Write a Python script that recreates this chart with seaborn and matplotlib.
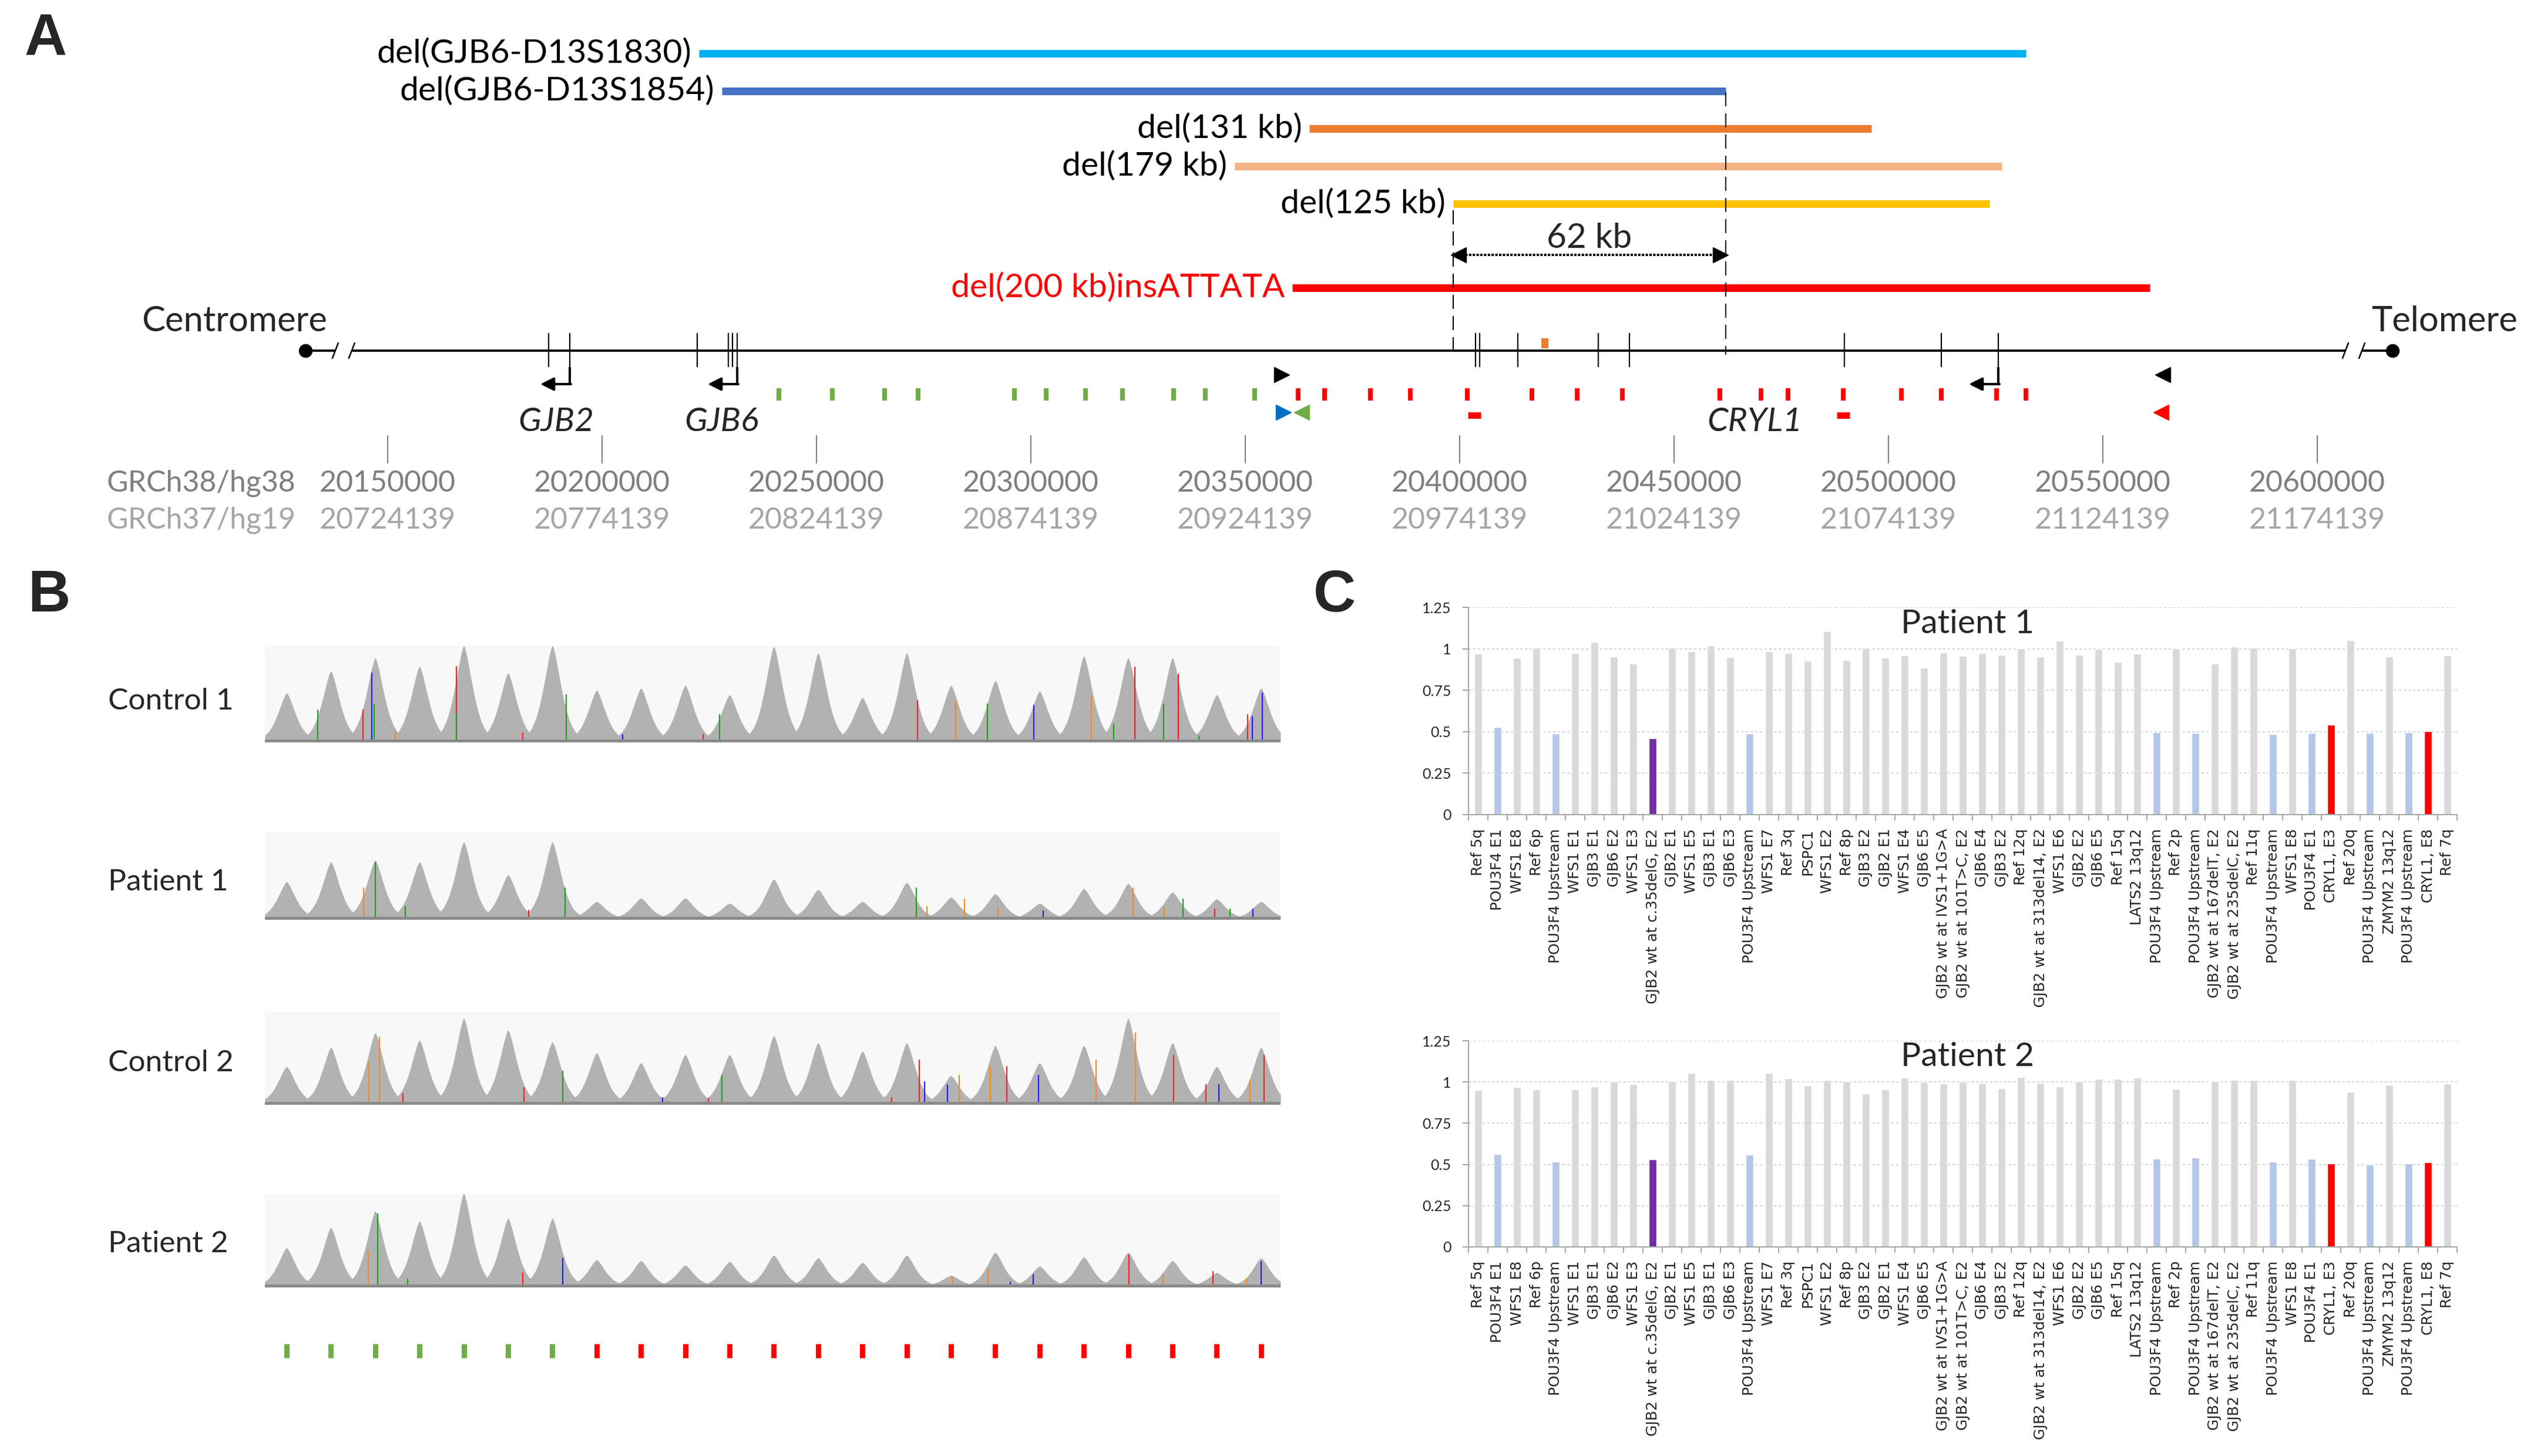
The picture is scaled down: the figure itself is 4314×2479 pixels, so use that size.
import numpy as np
import matplotlib
matplotlib.use("Agg")
import matplotlib.pyplot as plt
import seaborn as sns
import pandas as pd

sns.set_theme(style="white")
plt.rcParams['font.family'] = ['Lato', 'DejaVu Sans']

W, H = 4314, 2479
DPI = 100
PT = 72.0 / DPI  # points per pixel

# ------------------------------------------------------------------ DATA
# Panel A : deletions (GRCh38 coordinates)
del_names = ["del(GJB6-D13S1830)", "del(GJB6-D13S1854)", "del(131 kb)",
             "del(179 kb)", "del(125 kb)", "del(200 kb)insATTATA"]
del_start = [20222600, 20228000, 20365000, 20347500, 20398500, 20361000]
del_end = [20532000, 20462000, 20496000, 20526500, 20523500, 20561000]
del_colors = ["#00b0f0", "#4472c4", "#ed7d31", "#f4b183", "#ffc000", "#ff0000"]
gap_left, gap_right, gap_label = 20398500, 20462000, "62 kb"

chrom_start, chrom_end = 20130822, 20617534
break_left, break_right = 20139700, 20608500

genes = ["GJB2", "GJB6", "CRYL1"]
gene_exons = [[20187534, 20192466],
              [20222192, 20229452, 20230411, 20231507],
              [20403699, 20404658, 20413562, 20432329, 20439589, 20489726,
               20512329, 20525616]]
gene_tss = [20192466, 20231507, 20525616]
gene_label_bp = [20189300, 20227800, 20468800]

green_marks = [20241233, 20253699, 20265890, 20273699, 20296164, 20303562,
               20312740, 20321370, 20333288, 20340685, 20352192]
red_marks = [20362329, 20368493, 20379178, 20388493, 20401781, 20416849,
             20427397, 20437945, 20460685, 20470274, 20476575, 20489452,
             20503014, 20512329, 20525205, 20532055]
red_boxes = [20403425, 20489452]
orange_box = [20419863]
primer_black_f, primer_black_r = 20358493, 20563973
primer_blue_f, primer_green_r, primer_red_r = 20358904, 20363151, 20563562

hg38_ticks = [20150000, 20200000, 20250000, 20300000, 20350000, 20400000,
              20450000, 20500000, 20550000, 20600000]
hg19_ticks = [20724139, 20774139, 20824139, 20874139, 20924139, 20974139,
              21024139, 21074139, 21124139, 21174139]

# Panel B : chromatogram peak heights (fraction of trace box)
trace_names = ["Control 1", "Patient 1", "Control 2", "Patient 2"]
control1_peaks = [0.50, 0.73, 0.87, 0.78, 1.00, 0.71, 1.00, 0.53, 0.55, 0.58, 0.48, 0.99,
                  0.92, 0.45, 0.92, 0.58, 0.63, 0.52, 0.89, 0.87, 0.87, 0.48, 0.55]
patient1_peaks = [0.42, 0.65, 0.67, 0.65, 0.88, 0.50, 0.88, 0.19, 0.23, 0.23, 0.17, 0.45,
                  0.33, 0.19, 0.41, 0.24, 0.28, 0.17, 0.34, 0.40, 0.30, 0.22, 0.19]
control2_peaks = [0.40, 0.61, 0.77, 0.69, 0.93, 0.80, 0.67, 0.55, 0.44, 0.53, 0.53, 0.74,
                  0.66, 0.57, 0.66, 0.30, 0.63, 0.44, 0.63, 0.93, 0.66, 0.40, 0.61]
patient2_peaks = [0.41, 0.63, 0.81, 0.70, 1.00, 0.73, 0.73, 0.28, 0.27, 0.22, 0.26, 0.33,
                  0.30, 0.25, 0.33, 0.11, 0.36, 0.21, 0.31, 0.36, 0.27, 0.14, 0.30]
# base-call spikes: (position, height, colour)
control1_spikes = [(0.7, 0.32, 'g'), (1.72, 0.32, 'r'), (1.92, 0.71, 'b'), (1.98, 0.38, 'g'),
                   (2.45, 0.10, 'o'), (3.84, 0.78, 'r'), (3.84, 0.28, 'g'), (5.33, 0.08, 'r'),
                   (6.31, 0.48, 'g'), (7.58, 0.06, 'b'), (9.40, 0.06, 'r'), (9.78, 0.27, 'g'),
                   (14.25, 0.42, 'r'), (15.10, 0.42, 'o'), (15.82, 0.38, 'g'), (16.87, 0.37, 'b'),
                   (18.17, 0.47, 'o'), (18.67, 0.17, 'g'), (19.15, 0.77, 'r'), (19.80, 0.38, 'g'),
                   (20.13, 0.70, 'r'), (20.60, 0.05, 'g'), (21.70, 0.27, 'r'), (21.80, 0.25, 'b'),
                   (22.03, 0.50, 'b')]
patient1_spikes = [(1.74, 0.35, 'o'), (2.0, 0.64, 'g'), (2.68, 0.13, 'g'), (5.47, 0.09, 'r'),
                   (6.29, 0.35, 'g'), (14.22, 0.35, 'g'), (14.45, 0.13, 'o'), (15.31, 0.22, 'o'),
                   (16.06, 0.12, 'o'), (17.08, 0.08, 'b'), (19.11, 0.35, 'o'), (19.81, 0.12, 'o'),
                   (20.24, 0.22, 'g'), (20.96, 0.10, 'r'), (21.30, 0.10, 'g'), (21.82, 0.10, 'b')]
control2_spikes = [(1.86, 0.45, 'o'), (2.09, 0.72, 'o'), (2.62, 0.10, 'r'), (5.36, 0.17, 'r'),
                   (6.24, 0.35, 'g'), (8.49, 0.06, 'b'), (9.52, 0.05, 'r'), (9.83, 0.30, 'g'),
                   (13.66, 0.06, 'r'), (14.28, 0.47, 'r'), (14.40, 0.23, 'b'), (14.92, 0.20, 'b'),
                   (15.18, 0.30, 'o'), (15.89, 0.40, 'o'), (16.26, 0.40, 'r'), (16.98, 0.30, 'b'),
                   (18.27, 0.47, 'o'), (19.17, 0.77, 'o'), (20.03, 0.52, 'r'), (20.76, 0.20, 'r'),
                   (21.05, 0.20, 'b'), (21.75, 0.25, 'o'), (22.07, 0.52, 'r')]
patient2_spikes = [(1.85, 0.38, 'o'), (2.06, 0.78, 'g'), (2.73, 0.07, 'g'), (5.33, 0.14, 'r'),
                   (6.23, 0.30, 'b'), (15.03, 0.10, 'o'), (15.83, 0.17, 'o'), (16.34, 0.04, 'b'),
                   (16.86, 0.12, 'b'), (19.02, 0.33, 'r'), (19.79, 0.12, 'o'), (20.91, 0.15, 'r'),
                   (21.67, 0.07, 'o'), (22.0, 0.26, 'b')]
base_marks = ['#70ad47'] * 7 + ['#ff0000'] * 16

# Panel C : MLPA ratios
amplicons = ["Ref 5q", "POU3F4 E1", "WFS1 E8", "Ref 6p", "POU3F4 Upstream", "WFS1 E1",
             "GJB3 E1", "GJB6 E2", "WFS1 E3", "GJB2 wt at c.35delG, E2", "GJB2 E1", "WFS1 E5",
             "GJB3 E1", "GJB6 E3", "POU3F4 Upstream", "WFS1 E7", "Ref 3q", "PSPC1", "WFS1 E2",
             "Ref 8p", "GJB3 E2", "GJB2 E1", "WFS1 E4", "GJB6 E5", "GJB2 wt at IVS1+1G>A",
             "GJB2 wt at 101T>C, E2", "GJB6 E4", "GJB3 E2", "Ref 12q",
             "GJB2 wt at 313del14, E2", "WFS1 E6", "GJB2 E2", "GJB6 E5", "Ref 15q",
             "LATS2 13q12", "POU3F4 Upstream", "Ref 2p", "POU3F4 Upstream",
             "GJB2 wt at 167delT, E2", "GJB2 wt at 235delC, E2", "Ref 11q", "POU3F4 Upstream",
             "WFS1 E8", "POU3F4 E1", "CRYL1, E3", "Ref 20q", "POU3F4 Upstream", "ZMYM2 13q12",
             "POU3F4 Upstream", "CRYL1, E8", "Ref 7q"]
patient1_ratio = [0.97, 0.526, 0.944, 1.007, 0.487, 0.975, 1.04, 0.953, 0.909, 0.462, 1.007,
                  0.985, 1.02, 0.949, 0.487, 0.985, 0.975, 0.929, 1.105, 0.932, 1.007, 0.944,
                  0.959, 0.887, 0.978, 0.956, 0.973, 0.964, 1.003, 0.951, 1.047, 0.963, 0.998,
                  0.922, 0.971, 0.497, 1.003, 0.492, 0.91, 1.013, 1.007, 0.484, 1.003, 0.492,
                  0.541, 1.051, 0.491, 0.953, 0.497, 0.504, 0.961]
patient2_ratio = [0.95, 0.563, 0.968, 0.955, 0.517, 0.955, 0.972, 1.005, 0.987, 0.532, 1.003,
                  1.053, 1.012, 1.01, 0.56, 1.053, 1.023, 0.978, 1.01, 1.003, 0.928, 0.955,
                  1.027, 1.0, 0.99, 1.0, 0.992, 0.962, 1.03, 0.992, 0.972, 1.005, 1.017, 1.018,
                  1.025, 0.535, 0.957, 0.543, 1.003, 1.01, 1.012, 0.518, 1.013, 0.535, 0.505,
                  0.94, 0.5, 0.982, 0.507, 0.512, 0.99]
patient_titles = ["Patient 1", "Patient 2"]

# ------------------------------------------------------------------ FIGURE
fig = plt.figure(figsize=(W / DPI, H / DPI), dpi=DPI)
fig.patch.set_facecolor("white")


def rect(x0, x1, y0, y1):
    return [x0 / W, 1 - y1 / H, (x1 - x0) / W, (y1 - y0) / H]


# ---------------- Panel A -------------------------------------------------
PXBP = 0.0073          # px per bp
BPP = 1 / PXBP         # bp per px


def px2bp(px):
    return hg38_ticks[0] + (px - 660) / PXBP


axA = fig.add_axes(rect(0, W, 0, 930))
axA.set_xlim(px2bp(0), px2bp(W))
axA.set_ylim(930, 0)
axA.axis('off')

row_y = [91, 155, 219, 283, 347, 490]
for i, (nm, s, e, c) in enumerate(zip(del_names, del_start, del_end, del_colors)):
    axA.plot([s, e], [row_y[i], row_y[i]], color=c, lw=13 * PT, solid_capstyle='butt')
    axA.text(s - 13 * BPP, row_y[i], nm, ha='right', va='center', fontsize=41,
             color=('#ff0000' if i == 5 else 'black'))

# dashed boundaries and 62 kb arrow
axA.plot([gap_left, gap_left], [358, 597], color='black', lw=2 * PT, dashes=(12, 6))
axA.plot([gap_right, gap_right], [157, 604], color='black', lw=2 * PT, dashes=(12, 6))
axA.plot([gap_left + 14 * BPP, gap_right - 14 * BPP], [434, 434], color='black',
         lw=4 * PT, ls=(0, (1, 0.6)))
axA.plot([gap_left + 9 * BPP], [434], marker='<', ms=26 * PT, color='black')
axA.plot([gap_right - 9 * BPP], [434], marker='>', ms=26 * PT, color='black')
axA.text((gap_left + gap_right) / 2, 405, gap_label, ha='center', va='center', fontsize=42)

# chromosome line
CY = 597
segs = [(chrom_start, break_left - 14 * BPP), (break_left + 14 * BPP, break_right - 14 * BPP),
        (break_right + 14 * BPP, chrom_end)]
for a, b in segs:
    axA.plot([a, b], [CY, CY], color='#111111', lw=4 * PT, solid_capstyle='butt')
for bx in (break_left, break_right):
    for off in (-14, 14):
        axA.plot([bx + (off - 5) * BPP, bx + (off + 5) * BPP], [CY + 13, CY - 13],
                 color='black', lw=2.5 * PT)
axA.plot([chrom_start, chrom_end], [CY, CY], ls='none', marker='o', ms=22 * PT, color='black')
axA.text(px2bp(399), 547, "Centromere", ha='center', va='center', fontsize=43)
axA.text(px2bp(4162), 547, "Telomere", ha='center', va='center', fontsize=43)

# genes
for g, ex, tss, lb in zip(genes, gene_exons, gene_tss, gene_label_bp):
    axA.vlines(ex, 567, 625, color='black', lw=2.2 * PT)
    axA.plot([tss, tss], [625, 654], color='black', lw=4 * PT, solid_capstyle='butt')
    axA.annotate('', xy=(tss - 50 * BPP, 654), xytext=(tss + 2 * BPP, 654),
                 arrowprops=dict(arrowstyle='-|>', color='black', lw=4 * PT,
                                 mutation_scale=34, shrinkA=0, shrinkB=0))
    axA.text(lb, 719, g, ha='center', va='center', fontsize=41, style='italic')

# probes / markers
axA.plot(green_marks, [671] * len(green_marks), ls='none', marker='|', ms=21 * PT,
         mew=8 * PT, color='#70ad47')
axA.plot(red_marks, [671] * len(red_marks), ls='none', marker='|', ms=21 * PT,
         mew=8 * PT, color='#ff0000')
axA.plot(red_boxes, [707] * len(red_boxes), ls='none', marker='_', ms=22 * PT,
         mew=11 * PT, color='#ff0000')
axA.plot(orange_box, [584], ls='none', marker='|', ms=17 * PT, mew=12 * PT, color='#ed7d31')
axA.plot([primer_black_f], [638], ls='none', marker='>', ms=26 * PT, color='black')
axA.plot([primer_black_r], [638], ls='none', marker='<', ms=26 * PT, color='black')
axA.plot([primer_blue_f], [702], ls='none', marker='>', ms=26 * PT, color='#0070c0')
axA.plot([primer_green_r], [702], ls='none', marker='<', ms=26 * PT, color='#70ad47')
axA.plot([primer_red_r], [702], ls='none', marker='<', ms=26 * PT, color='#ff0000')

# coordinate ruler
axA.vlines(hg38_ticks, 741, 789, color='#7f7f7f', lw=2 * PT)
for t38, t19 in zip(hg38_ticks, hg19_ticks):
    axA.text(t38, 823, str(t38), ha='center', va='center', fontsize=36, color='#7f7f7f')
    axA.text(t38, 886, str(t19), ha='center', va='center', fontsize=36, color='#a6a6a6')
axA.text(px2bp(182), 823, "GRCh38/hg38", ha='left', va='center', fontsize=36, color='#7f7f7f')
axA.text(px2bp(182), 886, "GRCh37/hg19", ha='left', va='center', fontsize=36, color='#a6a6a6')

# ---------------- Panel B -------------------------------------------------
spike_col = {'g': '#1aa31a', 'r': '#ff2020', 'b': '#2020ff', 'o': '#f08c20'}
boxes = [(1099, 1264), (1416, 1566), (1723, 1881), (2032, 2192)]
label_y = [1194, 1502, 1810, 2118]
peaks_all = [control1_peaks, patient1_peaks, control2_peaks, patient2_peaks]
spikes_all = [control1_spikes, patient1_spikes, control2_spikes, patient2_spikes]
XL = (-0.49, 22.44)
xs = np.linspace(XL[0], XL[1], 4000)
for name, (y0, y1), ly, pk, sp in zip(trace_names, boxes, label_y, peaks_all, spikes_all):
    ax = fig.add_axes(rect(451, 2180, y0, y1))
    pos = np.arange(len(pk))
    prof = np.max([h * np.exp(-(np.abs(xs - p) / 0.29) ** 1.5) for p, h in zip(pos, pk)], axis=0)
    ax.fill_between(xs, 0, prof, color='#b2b2b2', lw=0)
    for p, h, c in sp:
        ax.plot([p, p], [0, h], color=spike_col[c], lw=2.2 * PT)
    ax.axhline(0, color='#8a8a8a', lw=5 * PT)
    ax.set_facecolor('#f8f8f8')
    ax.set_xlim(*XL)
    ax.set_ylim(-0.02, 1.0)
    ax.set_xticks([])
    ax.set_yticks([])
    for s in ax.spines.values():
        s.set_visible(False)
    fig.text(184 / W, 1 - ly / H, name, ha='left', va='center', fontsize=37)

axT = fig.add_axes(rect(451, 2180, 2280, 2320))
axT.set_xlim(*XL)
axT.set_ylim(0, 1)
axT.vlines(np.arange(len(base_marks)), 0.2, 0.8, colors=base_marks, lw=9 * PT)
axT.axis('off')

# ---------------- Panel C -------------------------------------------------
def bar_color(label):
    if label.startswith("POU3F4"):
        return "#b4c7e7"
    if "c.35delG" in label:
        return "#7030a0"
    if label.startswith("CRYL1"):
        return "#ff0000"
    return "#d9d9d9"


keys = [f"{i:02d}" for i in range(len(amplicons))]
pal = {k: bar_color(a) for k, a in zip(keys, amplicons)}
chart_boxes = [(1034, 1387), (1772, 2123)]
title_frac = [0.92, 0.923]
for vals, title, (y0, y1), tf in zip([patient1_ratio, patient2_ratio], patient_titles,
                                      chart_boxes, title_frac):
    ax = fig.add_axes(rect(2500, 4183, y0, y1))
    df = pd.DataFrame({"key": keys, "ratio": vals})
    sns.barplot(data=df, x="key", y="ratio", hue="key", palette=pal, order=keys,
                hue_order=keys, legend=False, width=0.39, ax=ax, saturation=1)
    ax.set_xlim(-0.5, len(keys) - 0.5)
    ax.set_ylim(0, 1.25)
    ax.set_yticks([0, 0.25, 0.5, 0.75, 1.0, 1.25])
    ax.set_yticklabels(["0", "0.25", "0.5", "0.75", "1", "1.25"], fontsize=18)
    ax.set_xticks(range(len(keys)))
    ax.set_xticklabels(amplicons, rotation=90, fontsize=18, family='DejaVu Sans')
    ax.set_xticks(np.arange(len(keys) + 1) - 0.5, minor=True)
    ax.tick_params(axis='x', which='major', length=0, pad=17)
    ax.tick_params(axis='x', which='minor', length=10 * PT, width=2 * PT, color='#a6a6a6',
                   direction='out', bottom=True)
    ax.tick_params(axis='y', length=10 * PT, width=2 * PT, color='#a6a6a6', pad=14,
                   direction='out', left=True)
    ax.set_xlabel("")
    ax.set_ylabel("")
    ax.yaxis.grid(True, ls=(0, (2, 2)), color='#d4d4d4', lw=2 * PT)
    ax.set_axisbelow(True)
    for s in ("top", "right"):
        ax.spines[s].set_visible(False)
    for s in ("left", "bottom"):
        ax.spines[s].set_color('#a6a6a6')
        ax.spines[s].set_linewidth(2 * PT)
    ax.set_facecolor('white')
    ax.text(0.505, tf, title, transform=ax.transAxes, ha='center', va='center', fontsize=41)

# panel letters
for letter, (lx, ly) in zip("ABC", [(42, 69), (47, 1015), (2236, 1015)]):
    fig.text(lx / W, 1 - ly / H, letter, ha='left', va='center', fontsize=72,
             fontweight='bold', family=['Liberation Sans', 'DejaVu Sans'])

fig.savefig("out.png", dpi=DPI, facecolor='white')
